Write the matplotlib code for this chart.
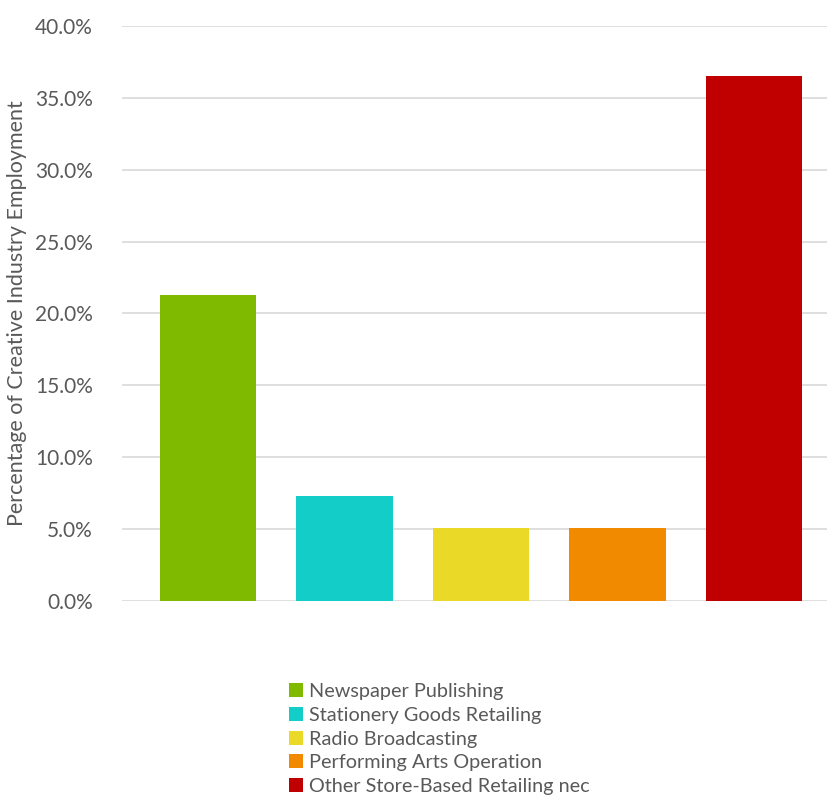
import matplotlib
matplotlib.use('Agg')
import matplotlib.pyplot as plt
from matplotlib.ticker import FuncFormatter
from matplotlib.patches import Patch

plt.rcParams['font.family'] = ['Lato', 'DejaVu Sans']

# share of creative industry employment by industry
industries = ['Newspaper Publishing', 'Stationery Goods Retailing', 'Radio Broadcasting',
              'Performing Arts Operation', 'Other Store-Based Retailing nec']
shares = [21.3, 7.3, 5.1, 5.1, 36.5]
colors = ['#7FBA00', '#13CDC8', '#EAD926', '#F28A00', '#C00000']
TEXT = '#595959'

fig = plt.figure(figsize=(8.27, 7.97), dpi=100)
ax = fig.add_axes([0.1475, 0.2459, 0.8525, 0.7215])

x = range(len(industries))
ax.bar(x, shares, width=0.71, color=colors, zorder=3)

ax.set_ylim(0, 40)
ax.set_yticks(range(0, 41, 5))
ax.yaxis.set_major_formatter(FuncFormatter(lambda v, _: f'{v:.1f}%'))
ax.set_xlim(-0.63, 4.535)
ax.set_xticks([])
ax.grid(axis='y', color='#D9D9D9', linewidth=1.2, zorder=0)
for s in ax.spines.values():
    s.set_visible(False)
ax.tick_params(axis='y', length=0, pad=21, labelsize=15, labelcolor=TEXT)
ax.set_ylabel('Percentage of Creative Industry Employment', fontsize=15.5, color=TEXT, labelpad=6)

handles = [Patch(facecolor=c, edgecolor='none') for c in colors]
fig.legend(handles, industries, loc='upper left', bbox_to_anchor=(0.35, 0.143),
           frameon=False, fontsize=14.3, labelcolor=TEXT, handlelength=0.7, handleheight=0.7,
           handletextpad=0.3, labelspacing=0.34, borderaxespad=0, borderpad=0)

fig.savefig('out.png', dpi=100, facecolor='white')
